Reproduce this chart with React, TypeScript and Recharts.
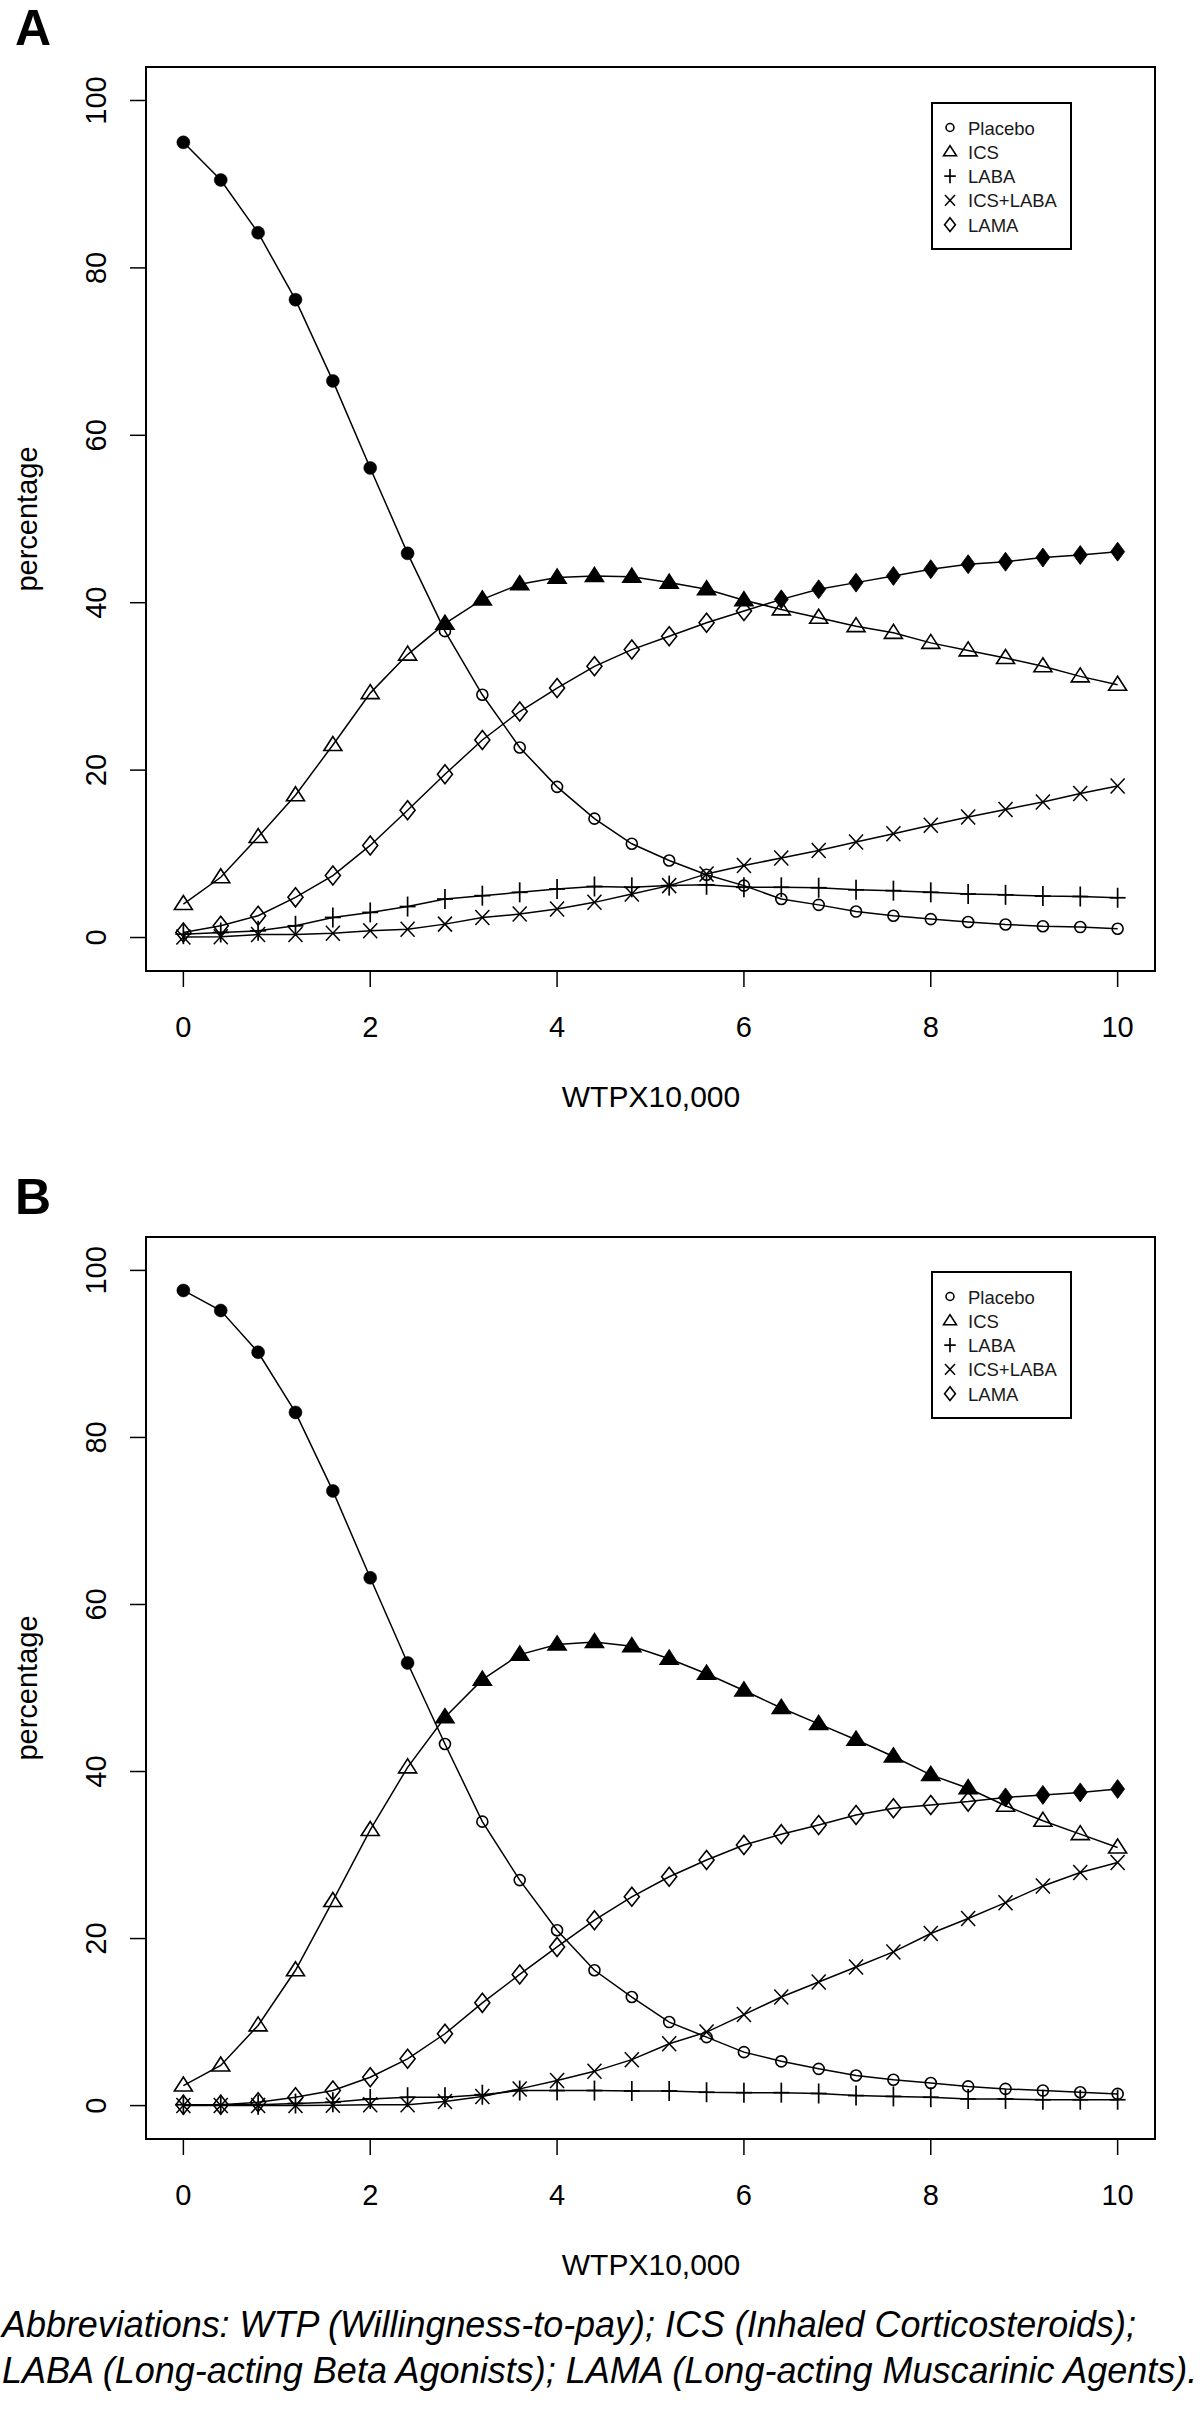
import React from 'react';
import { LineChart, Line, XAxis, YAxis, ReferenceArea, Legend } from 'recharts';

const FONT = "'Liberation Sans', Arial, Helvetica, sans-serif";

// x positions (WTP x 10,000)
const wtp = [0, 0.4, 0.8, 1.2, 1.6, 2, 2.4, 2.8, 3.2, 3.6, 4, 4.4, 4.8, 5.2, 5.6, 6, 6.4, 6.8, 7.2, 7.6, 8, 8.4, 8.8, 9.2, 9.6, 10];
const xTicks = [0, 2, 4, 6, 8, 10];
const yTicks = [0, 20, 40, 60, 80, 100];
const seriesNames = ['Placebo', 'ICS', 'LABA', 'ICS+LABA', 'LAMA'];

// Panel A
const placeboA = [95.0, 90.5, 84.2, 76.2, 66.5, 56.1, 45.9, 36.6, 29.0, 22.7, 18.0, 14.2, 11.2, 9.2, 7.5, 6.2, 4.6, 3.9, 3.1, 2.6, 2.2, 1.85, 1.55, 1.35, 1.25, 1.05];
const icsA = [4.0, 7.2, 12.0, 17.0, 23.0, 29.2, 33.8, 37.5, 40.4, 42.2, 43.0, 43.2, 43.1, 42.4, 41.6, 40.3, 39.2, 38.2, 37.2, 36.4, 35.2, 34.3, 33.4, 32.4, 31.2, 30.2];
const labaA = [0.4, 0.6, 0.8, 1.4, 2.4, 3.0, 3.7, 4.6, 5.0, 5.4, 5.8, 6.1, 6.0, 6.2, 6.3, 6.0, 6.0, 5.95, 5.7, 5.6, 5.4, 5.2, 5.1, 4.95, 4.9, 4.75];
const icsLabaA = [0.05, 0.1, 0.35, 0.35, 0.5, 0.8, 1.0, 1.6, 2.4, 2.8, 3.4, 4.2, 5.2, 6.2, 7.6, 8.6, 9.5, 10.4, 11.4, 12.4, 13.4, 14.4, 15.3, 16.2, 17.2, 18.1];
const lamaA = [0.6, 1.4, 2.6, 4.8, 7.4, 11.0, 15.2, 19.5, 23.6, 27.0, 29.8, 32.4, 34.4, 36.0, 37.6, 39.0, 40.4, 41.6, 42.4, 43.2, 44.0, 44.6, 44.9, 45.4, 45.7, 46.1];

// Panel B
const placeboB = [97.6, 95.2, 90.2, 83.0, 73.6, 63.2, 53.0, 43.3, 34.0, 27.0, 21.0, 16.2, 13.0, 10.0, 8.2, 6.4, 5.3, 4.4, 3.6, 3.1, 2.7, 2.3, 2.0, 1.8, 1.6, 1.4];
const icsB = [2.4, 4.8, 9.6, 16.2, 24.5, 33.0, 40.5, 46.5, 51.0, 54.0, 55.2, 55.5, 55.0, 53.5, 51.7, 49.7, 47.6, 45.7, 43.8, 41.8, 39.6, 38.0, 35.9, 34.1, 32.5, 30.9];
const labaB = [0.1, 0.1, 0.1, 0.25, 0.4, 0.8, 1.0, 1.0, 1.3, 1.8, 1.8, 1.8, 1.75, 1.75, 1.6, 1.55, 1.55, 1.45, 1.2, 1.1, 1.0, 0.8, 0.8, 0.7, 0.7, 0.7];
const icsLabaB = [0, 0, 0, 0, 0.05, 0.1, 0.1, 0.5, 1.1, 2.0, 3.0, 4.1, 5.5, 7.4, 8.8, 10.9, 13.0, 14.8, 16.6, 18.4, 20.6, 22.4, 24.3, 26.3, 27.9, 29.1];
const lamaB = [0.1, 0.1, 0.4, 1.0, 1.8, 3.4, 5.6, 8.6, 12.3, 15.7, 19.0, 22.2, 25.0, 27.4, 29.4, 31.2, 32.5, 33.6, 34.8, 35.6, 36.0, 36.4, 36.9, 37.2, 37.5, 37.9];

type Key = 'placebo' | 'ics' | 'laba' | 'icslaba' | 'lama';
const keys: Key[] = ['placebo', 'ics', 'laba', 'icslaba', 'lama'];

function buildRows(series: Record<Key, number[]>) {
  return wtp.map((x, i) => {
    const row: any = { wtp: x };
    let best: Key = 'placebo';
    let bv = -Infinity;
    keys.forEach((k) => {
      row[k] = series[k][i];
      if (series[k][i] > bv) {
        bv = series[k][i];
        best = k;
      }
    });
    row.best = best;
    return row;
  });
}

const rowsA = buildRows({ placebo: placeboA, ics: icsA, laba: labaA, icslaba: icsLabaA, lama: lamaA });
const rowsB = buildRows({ placebo: placeboB, ics: icsB, laba: labaB, icslaba: icsLabaB, lama: lamaB });

function Marker({ kind, cx, cy, filled, small }: { kind: Key; cx: number; cy: number; filled: boolean; small?: boolean }) {
  if (cx == null || cy == null || isNaN(cx) || isNaN(cy)) return <g />;
  const s = small ? 0.72 : 1;
  const sw = 1.6;
  switch (kind) {
    case 'placebo':
      return filled ? (
        <circle cx={cx} cy={cy} r={6.5 * s} fill="#000" stroke="#000" strokeWidth={0.5} />
      ) : (
        <circle cx={cx} cy={cy} r={5.5 * s} fill="none" stroke="#000" strokeWidth={sw} />
      );
    case 'ics': {
      const hw = 9 * s;
      const up = 8.5 * s;
      const dn = 5.5 * s;
      const pts = `${cx},${cy - up} ${cx - hw},${cy + dn} ${cx + hw},${cy + dn}`;
      return <polygon points={pts} fill={filled ? '#000' : 'none'} stroke="#000" strokeWidth={sw} strokeLinejoin="miter" />;
    }
    case 'laba': {
      const hx = 8 * s;
      const hy = 10 * s;
      return (
        <g stroke="#000" strokeWidth={1.7}>
          <line x1={cx - hx} y1={cy} x2={cx + hx} y2={cy} />
          <line x1={cx} y1={cy - hy} x2={cx} y2={cy + hy} />
        </g>
      );
    }
    case 'icslaba': {
      const hx = 7 * s;
      const hy = 7.5 * s;
      return (
        <g stroke="#000" strokeWidth={1.5}>
          <line x1={cx - hx} y1={cy - hy} x2={cx + hx} y2={cy + hy} />
          <line x1={cx - hx} y1={cy + hy} x2={cx + hx} y2={cy - hy} />
        </g>
      );
    }
    case 'lama':
    default: {
      if (filled) {
        const hx = 7 * s;
        const hy = 9.5 * s;
        const pts = `${cx},${cy - hy} ${cx + hx},${cy} ${cx},${cy + hy} ${cx - hx},${cy}`;
        return <polygon points={pts} fill="#000" stroke="#000" strokeWidth={0.8} />;
      }
      const hx = 7.5 * s;
      const hy = 9.5 * s;
      const pts = `${cx},${cy - hy} ${cx + hx},${cy} ${cx},${cy + hy} ${cx - hx},${cy}`;
      return <polygon points={pts} fill="none" stroke="#000" strokeWidth={sw} />;
    }
  }
}

const XTick = (props: any) => {
  const { x, y, payload } = props;
  return (
    <text x={x} y={y} dy="0.71em" textAnchor="middle" fontSize={29} fontFamily={FONT} fill="#000">
      {payload.value}
    </text>
  );
};

const YTick = (props: any) => {
  const { x, y, payload } = props;
  return (
    <text x={x} y={y} transform={`rotate(-90 ${x} ${y})`} textAnchor="middle" fontSize={29} fontFamily={FONT} fill="#000">
      {payload.value}
    </text>
  );
};

const LegendBox = () => (
  <svg width={142} height={148} style={{ display: 'block', overflow: 'visible' }}>
    <rect x={1} y={1} width={139} height={146} fill="#fff" stroke="#000" strokeWidth={2} />
    {seriesNames.map((name, i) => {
      const cy = 25.5 + i * 24.3;
      return (
        <g key={name}>
          <Marker kind={keys[i]} cx={19} cy={cy} filled={false} small />
          <text x={37} y={cy + 7} fontSize={18.5} fontFamily={FONT} fill="#1a1a1a">
            {name}
          </text>
        </g>
      );
    })}
  </svg>
);

function Panel({ rows, top, height, bottomMargin, legendTop }: { rows: any[]; top: number; height: number; bottomMargin: number; legendTop: number }) {
  return (
    <div style={{ position: 'absolute', left: 0, top, width: 1200, height }}>
      <LineChart width={1200} height={height} data={rows} margin={{ top: 67, right: 45, bottom: bottomMargin, left: 86 }}>
        <XAxis
          dataKey="wtp"
          type="number"
          domain={[-0.4, 10.4]}
          ticks={xTicks}
          interval={0}
          allowDataOverflow
          axisLine={false}
          tickSize={16}
          tickMargin={29}
          tickLine={{ stroke: '#000', strokeWidth: 1.5 }}
          tick={XTick}
          height={60}
        />
        <YAxis
          type="number"
          domain={[-4, 104]}
          ticks={yTicks}
          interval={0}
          allowDataOverflow
          axisLine={false}
          tickSize={16}
          tickMargin={24}
          tickLine={{ stroke: '#000', strokeWidth: 1.5 }}
          tick={YTick}
          width={60}
        />
        <ReferenceArea x1={-0.4} x2={10.4} y1={-4} y2={104} fill="none" fillOpacity={0} stroke="#000" strokeWidth={2} ifOverflow="visible" />
        {keys.map((k, i) => (
          <Line
            key={k}
            dataKey={k}
            name={seriesNames[i]}
            type="linear"
            stroke="#000"
            strokeWidth={1.5}
            isAnimationActive={false}
            activeDot={false}
            dot={(p: any) => (
              <Marker key={`${k}-${p.index}`} kind={k} cx={p.cx} cy={p.cy} filled={p.payload && p.payload.best === k} />
            )}
          />
        ))}
        <Legend
          layout="vertical"
          align="center"
          verticalAlign="middle"
          wrapperStyle={{ position: 'absolute', left: 931, top: legendTop, width: 142, height: 148 }}
          content={LegendBox}
        />
      </LineChart>
    </div>
  );
}

export default function App() {
  return (
    <div style={{ position: 'absolute', left: 0, top: 0, width: 1200, height: 2409, background: '#fff', overflow: 'hidden' }}>
      <Panel rows={rowsA} top={0} height={1140} bottomMargin={109} legendTop={102} />
      <Panel rows={rowsB} top={1170} height={1140} bottomMargin={111} legendTop={101} />
      <svg width={1200} height={2409} style={{ position: 'absolute', left: 0, top: 0, pointerEvents: 'none' }}>
        <text x={15} y={45} fontSize={50} fontWeight="bold" fontFamily={FONT} fill="#000">A</text>
        <text x={15} y={1214} fontSize={50} fontWeight="bold" fontFamily={FONT} fill="#000">B</text>
        <text x={37} y={519} transform="rotate(-90 37 519)" textAnchor="middle" fontSize={29} fontFamily={FONT} fill="#000">percentage</text>
        <text x={37} y={1688} transform="rotate(-90 37 1688)" textAnchor="middle" fontSize={29} fontFamily={FONT} fill="#000">percentage</text>
        <text x={651} y={1107} textAnchor="middle" fontSize={30} fontFamily={FONT} fill="#000">WTPX10,000</text>
        <text x={651} y={2275} textAnchor="middle" fontSize={30} fontFamily={FONT} fill="#000">WTPX10,000</text>
        <text x={2} y={2337} fontSize={36} fontStyle="italic" fontFamily={FONT} fill="#000" textLength={1134} lengthAdjust="spacingAndGlyphs">Abbreviations: WTP (Willingness-to-pay); ICS (Inhaled Corticosteroids);</text>
        <text x={2} y={2383} fontSize={36} fontStyle="italic" fontFamily={FONT} fill="#000">LABA (Long-acting Beta Agonists); LAMA (Long-acting Muscarinic Agents).</text>
      </svg>
    </div>
  );
}
